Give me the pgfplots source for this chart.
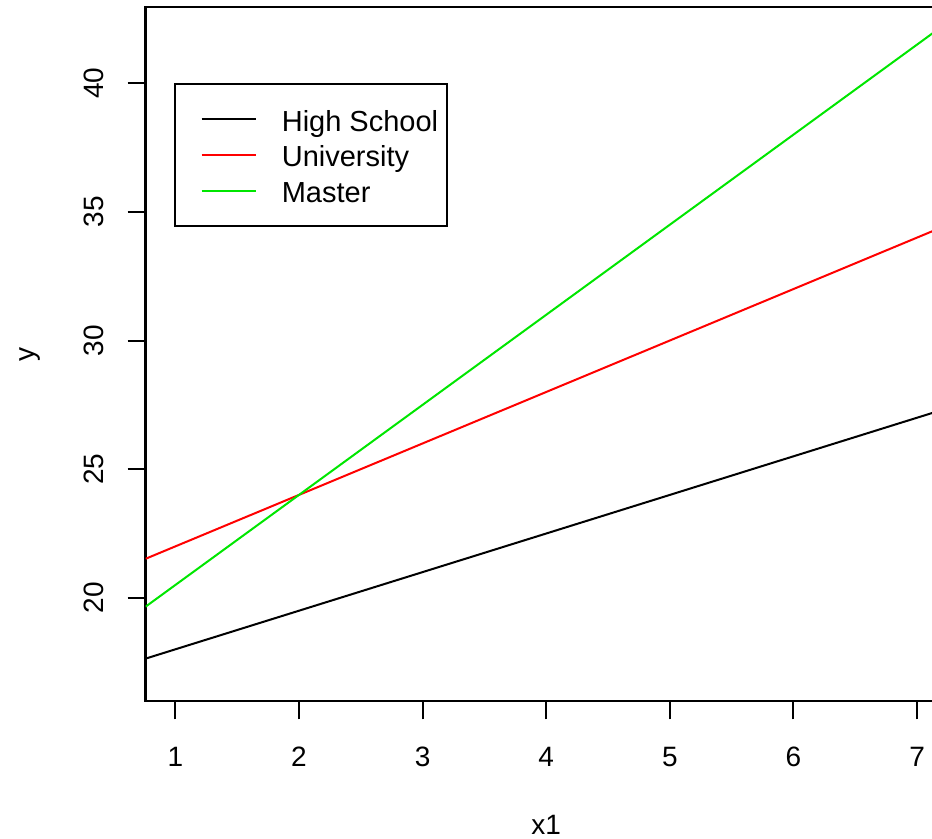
\documentclass[border=0pt]{standalone}
\usepackage{pgfplots}
\pgfplotsset{compat=1.18}
\usepackage{fontspec}
\setmainfont{Liberation Sans}
\definecolor{rgreen}{RGB}{0,230,0}
\begin{document}
\begin{tikzpicture}
\begin{axis}[
  name=ax,
  scale only axis,
  width=400.5pt, height=347pt,
  xmin=0.76, xmax=7.24, ymin=15.98, ymax=42.95,
  xtick={1,2,3,4,5,6,7},
  ytick={20,25,30,35,40},
  tick align=outside,
  xtick pos=bottom, ytick pos=left,
  major tick length=9pt,
  tick style={line width=1pt, black},
  axis line style={line width=1.2pt},
  /pgf/number format/assume math mode=true,
  tick label style={font=\fontsize{14}{17}\selectfont},
  xticklabel style={anchor=center, yshift=-18.65pt},
  yticklabel style={anchor=center, xshift=-17.1pt, rotate=90},
  label style={font=\fontsize{14}{17}\selectfont},
  xlabel={x1},
  ylabel={y},
  xlabel style={at={(axis description cs:0.5,-0.1777)}, anchor=center},
  ylabel style={at={(axis description cs:-0.1448,0.5)}, anchor=center, rotate=0},
  legend style={
    at={(0.035,0.8905)}, anchor=north west,
    draw=black, line width=1.1pt,
    inner xsep=4.5pt, inner ysep=8.57pt,
    font=\fontsize{14.5}{17}\selectfont,
    nodes={inner sep=0pt, text height=14.78pt, text depth=3.12pt},
    row sep=0pt,
  },
  legend cell align=left,
  legend image code/.code={%
    \path[draw=none] (0pt,0pt) -- (49pt,0pt);
    \draw[#1, line width=1pt] (8.85pt,0pt) -- (36pt,0pt);},
]
\addplot[black, line width=1pt] coordinates {(0.76,17.64) (7.24,27.36)};
\addlegendentry{High School}
\addplot[red, line width=1pt] coordinates {(0.76,21.52) (7.24,34.48)};
\addlegendentry{University}
\addplot[rgreen, line width=1pt] coordinates {(0.76,19.66) (7.24,42.34)};
\addlegendentry{Master}
\end{axis}
\pgfresetboundingbox
\path[use as bounding box] ([xshift=-72.85pt,yshift=-68.65pt]ax.south west) rectangle ([xshift=393.15pt,yshift=3.65pt]ax.north west);
\end{tikzpicture}
\end{document}
